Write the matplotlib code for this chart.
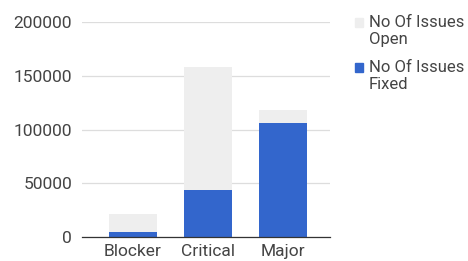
import matplotlib.pyplot as plt
from matplotlib.patches import Rectangle

plt.rcParams["font.family"] = ["Roboto", "DejaVu Sans"]

categories = ["Blocker", "Critical", "Major"]
fixed = [4600, 43700, 105900]
open_issues = [16800, 114500, 12100]
yticks = [0, 50000, 100000, 150000, 200000]
series_names = ["No Of Issues\nOpen", "No Of Issues\nFixed"]

blue = "#3366cc"
grey = "#eeeeee"
text_col = "#444444"

W, H = 468, 261
fig = plt.figure(figsize=(W / 100, H / 100), dpi=100)
ax = fig.add_axes([0.175, 0.091, 0.53, 0.825])

x = range(len(categories))
ax.bar(x, fixed, width=0.64, color=blue, zorder=2)
ax.bar(x, open_issues, width=0.64, bottom=fixed, color=grey, zorder=2)

ax.set_xlim(-0.68, 2.63)
ax.set_ylim(0, 200000)
ax.set_yticks(yticks)
ax.set_yticklabels([str(t) for t in yticks])
ax.set_xticks(list(x))
ax.set_xticklabels(categories)
ax.tick_params(length=0, labelsize=12.5, colors=text_col)
ax.tick_params(axis="y", pad=7)
ax.tick_params(axis="x", pad=5)

ax.grid(axis="y", color="#dddddd", linewidth=0.9, zorder=0)
for s in ["top", "right", "left"]:
    ax.spines[s].set_visible(False)
ax.spines["bottom"].set_color("#333333")
ax.spines["bottom"].set_linewidth(0.9)
ax.spines["bottom"].set_zorder(3)

# legend drawn by hand: square beside the first line of each two-line label
for i, (name, col) in enumerate(zip(series_names, [grey, blue])):
    top = 15 + 45 * i
    fig.add_artist(Rectangle((355 / W, 1 - (top + 12) / H), 8 / W, 9 / H,
                             color=col, transform=fig.transFigure))
    fig.text(369 / W, 1 - top / H, name, va="top", ha="left",
             fontsize=12, color=text_col, linespacing=1.17)

fig.savefig("out.png", dpi=100)
